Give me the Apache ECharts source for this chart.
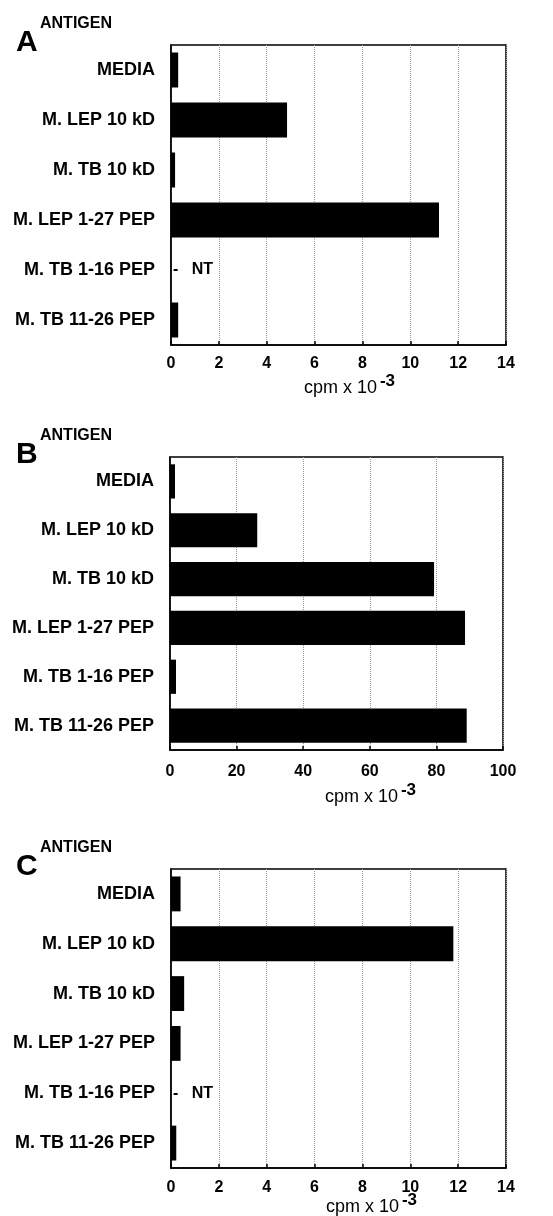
<!DOCTYPE html>
<html>
<head>
<meta charset="utf-8">
<script src="https://cdn.jsdelivr.net/npm/echarts@6/dist/echarts.min.js"></script>
<style>
  html, body { margin: 0; padding: 0; background: #fff; }
  #main { width: 553px; height: 1216px; }
</style>
</head>
<body>
<div id="main"></div>
<script>
// antigens, top to bottom
let categories = ["MEDIA", "M. LEP 10 kD", "M. TB 10 kD", "M. LEP 1-27 PEP", "M. TB 1-16 PEP", "M. TB 11-26 PEP"];

// cpm x 10^-3, null = NT (not tested)
let panelA = [0.3, 4.85, 0.17, 11.2, null, 0.3];
let panelB = [1.5, 26.2, 79.3, 88.6, 1.8, 89.1];
let panelC = [0.4, 11.8, 0.55, 0.4, null, 0.22];

let ticksA = [0, 2, 4, 6, 8, 10, 12, 14];
let ticksB = [0, 20, 40, 60, 80, 100];
let ticksC = [0, 2, 4, 6, 8, 10, 12, 14];

let panelLetters = ["A", "B", "C"];

let myChart = echarts.init(document.getElementById("main"));

let font = "Liberation Sans, Arial, sans-serif";

let grids = [
  { left: 171, right: 47, top: 45, height: 300 },
  { left: 170, right: 50, top: 457, height: 293 },
  { left: 171, right: 47, top: 869, height: 299 },
];
// per panel tweaks for the x axis text
let labelMargin = [11, 14, 12];
let nameGap = [28, 32, 24];
let nameShift = [22, 68, 66];

let values = [panelA, panelB, panelC];
let ticks = [ticksA, ticksB, ticksC];

let xAxes = [], yAxes = [], series = [], graphics = [];

grids.forEach((g, i) => {
  g.show = true;
  g.borderColor = "#000";
  g.borderWidth = 1.5;
  g.backgroundColor = "#fff";
  g.containLabel = false;
  g.outerBoundsMode = "none";

  let t = ticks[i];
  xAxes.push({
    type: "value",
    gridIndex: i,
    min: t[0],
    max: t[t.length - 1],
    interval: t[1] - t[0],
    axisLine: { show: true, lineStyle: { color: "#000", width: 1.5 } },
    axisTick: { show: true, inside: true, length: 4, lineStyle: { color: "#000", width: 1.5 } },
    splitLine: { show: true, lineStyle: { color: "#999", type: "dotted", width: 1 } },
    axisLabel: { color: "#000", fontFamily: font, fontWeight: "bold", fontSize: 16, margin: labelMargin[i] },
    name: "cpm x 10{sup|-3}",
    nameLocation: "middle",
    nameGap: nameGap[i],
    nameMoveOverlap: false,
    nameTextStyle: {
      color: "#000",
      fontFamily: font,
      fontSize: 18,
      padding: [0, 0, 0, nameShift[i]],
      rich: {
        sup: { fontFamily: font, fontSize: 17, fontWeight: "bold", verticalAlign: "bottom", padding: [0, 0, 14, 3] },
      },
    },
  });

  yAxes.push({
    type: "category",
    gridIndex: i,
    inverse: true,
    data: categories,
    axisLine: { show: true, lineStyle: { color: "#000", width: 1.5 } },
    axisTick: { show: false },
    axisLabel: { color: "#000", fontFamily: font, fontWeight: "bold", fontSize: 18, margin: 16 },
  });

  series.push({
    type: "bar",
    xAxisIndex: i,
    yAxisIndex: i,
    barCategoryGap: "30%",
    itemStyle: { color: "#000" },
    animation: false,
    data: values[i].map((v) =>
      v === null
        ? {
            value: 0,
            label: {
              show: true,
              position: "right",
              distance: 2,
              formatter: "-   NT",
              color: "#000",
              fontFamily: font,
              fontWeight: "bold",
              fontSize: 16,
            },
          }
        : v
    ),
  });

  // panel letter with "ANTIGEN" superscript
  graphics.push({
    type: "text",
    left: 16,
    top: g.top - 17,
    style: { text: panelLetters[i], font: "bold 30px " + font, fill: "#000" },
  });
  graphics.push({
    type: "text",
    left: 40,
    top: g.top - 29,
    style: { text: "ANTIGEN", font: "bold 16px " + font, fill: "#000" },
  });
});

let options = {
  backgroundColor: "#fff",
  animation: false,
  grid: grids,
  xAxis: xAxes,
  yAxis: yAxes,
  series: series,
  graphic: graphics,
};

myChart.setOption(options);
</script>
</body>
</html>
